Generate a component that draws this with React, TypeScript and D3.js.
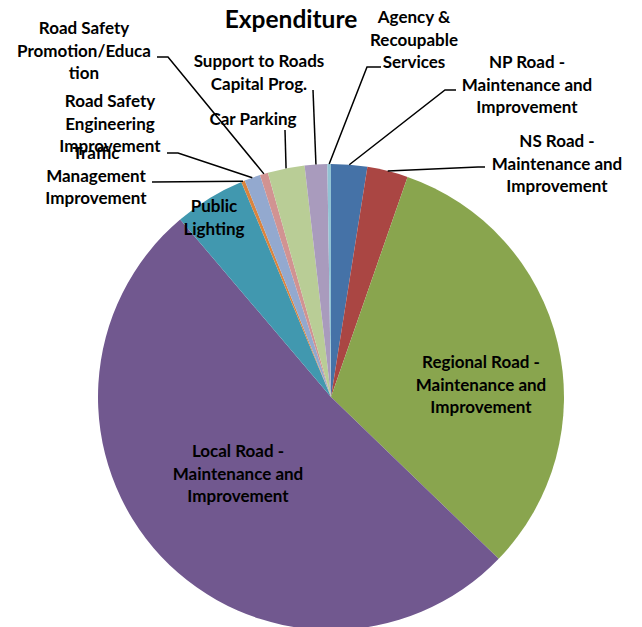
import React, { useEffect, useRef } from "react";
import * as d3 from "d3";

// Data (clockwise from 12 o'clock, as in the original)
const categories = [
  "NP Road - Maintenance and Improvement",
  "NS Road - Maintenance and Improvement",
  "Regional Road - Maintenance and Improvement",
  "Local Road - Maintenance and Improvement",
  "Public Lighting",
  "Traffic Management Improvement",
  "Road Safety Engineering Improvement",
  "Road Safety Promotion/Education",
  "Car Parking",
  "Support to Roads Capital Prog.",
  "Agency & Recoupable Services",
];
const values = [2.5, 2.83, 31.9, 51.6, 4.92, 0.25, 1.11, 0.56, 2.56, 1.56, 0.25];
const colors = [
  "#4572A7",
  "#AA4643",
  "#89A54E",
  "#71588F",
  "#4198AF",
  "#DB843D",
  "#93A9CF",
  "#D19392",
  "#B9CD96",
  "#A99BBD",
  "#92C3D4",
];

// how Excel wrapped each label
const labelLines = [
  ["NP Road -", "Maintenance and", "Improvement"],
  ["NS Road -", "Maintenance and", "Improvement"],
  ["Regional Road -", "Maintenance and", "Improvement"],
  ["Local Road -", "Maintenance and", "Improvement"],
  ["Public", "Lighting"],
  ["Traffic", "Management", "Improvement"],
  ["Road Safety", "Engineering", "Improvement"],
  ["Road Safety", "Promotion/Educa", "tion"],
  ["Car Parking"],
  ["Support to Roads", "Capital Prog."],
  ["Agency &", "Recoupable", "Services"],
];

// label layout: text centre x, first baseline y, leader start/elbow (null = inside label)
const labelLayout: { x: number; y: number; leader: number[][] | null }[] = [
  { x: 527, y: 68, leader: [[456, 90], [445, 90]] },
  { x: 557, y: 147, leader: [[485, 167], [478, 167]] },
  { x: 481, y: 368, leader: null },
  { x: 238, y: 457, leader: null },
  { x: 214, y: 212, leader: null },
  { x: 96, y: 159, leader: [[152, 182]] },
  { x: 110, y: 107, leader: [[167, 153], [178, 153]] },
  { x: 84, y: 34, leader: [[157, 57], [168, 57]] },
  { x: 253, y: 125, leader: [[285, 130]] },
  { x: 259, y: 67, leader: [[313, 90]] },
  { x: 414, y: 23, leader: [[381, 67], [367, 67]] },
];

const width = 642;
const height = 627;
const cx = 331;
const cy = 397;
const radius = 233;
const font = "Lato, 'DejaVu Sans', sans-serif";
const fontSize = 17;
const lineHeight = 22.5;

const App = () => {
  const svgRef = useRef<SVGSVGElement>(null);

  useEffect(() => {
    const svg = d3.select(svgRef.current);
    svg.selectAll("*").remove();

    svg
      .append("text")
      .attr("x", 291)
      .attr("y", 28)
      .attr("text-anchor", "middle")
      .attr("font-family", font)
      .attr("font-weight", "bold")
      .attr("font-size", 24.5)
      .text("Expenditure");

    const pie = d3
      .pie<number>()
      .sort(null)
      .value((d) => d);
    const arcs = pie(values);

    const arc = d3.arc<d3.PieArcDatum<number>>().innerRadius(0).outerRadius(radius);

    const g = svg.append("g").attr("transform", `translate(${cx},${cy})`);

    g.selectAll("path.slice")
      .data(arcs)
      .join("path")
      .attr("class", "slice")
      .attr("d", arc)
      .attr("fill", (d, i) => colors[i]);

    // leader lines
    const line = d3.line();
    arcs.forEach((a, i) => {
      const lay = labelLayout[i];
      if (!lay.leader) return;
      const mid = (a.startAngle + a.endAngle) / 2;
      const end: [number, number] = [cx + radius * Math.sin(mid), cy - radius * Math.cos(mid)];
      const pts = [...lay.leader.map((p) => [p[0], p[1]] as [number, number]), end];
      svg
        .append("path")
        .attr("d", line(pts))
        .attr("fill", "none")
        .attr("stroke", "#000")
        .attr("stroke-width", 1.5);
    });

    // labels
    categories.forEach((c, i) => {
      const lay = labelLayout[i];
      const t = svg
        .append("text")
        .attr("text-anchor", "middle")
        .attr("font-family", font)
        .attr("font-weight", "bold")
        .attr("font-size", fontSize)
        .attr("fill", "#000");
      labelLines[i].forEach((l, j) => {
        t.append("tspan")
          .attr("x", lay.x)
          .attr("y", lay.y + j * lineHeight)
          .text(l);
      });
    });
  }, []);

  return (
    <svg
      ref={svgRef}
      width={width}
      height={height}
      style={{ position: "absolute", left: 0, top: 0, background: "#fff" }}
    ></svg>
  );
};

export default App;
